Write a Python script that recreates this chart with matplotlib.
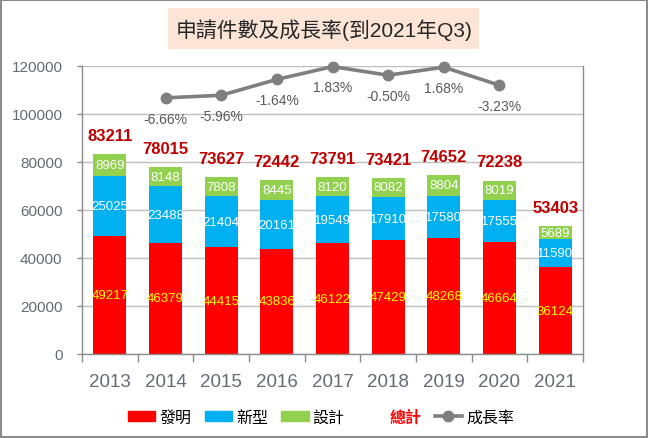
import matplotlib
matplotlib.use("Agg")
import matplotlib.pyplot as plt
from matplotlib.patches import Patch, Rectangle
from matplotlib.lines import Line2D

plt.rcParams['font.family'] = ['Liberation Sans', 'Noto Sans CJK TC', 'DejaVu Sans']

years = ['2013', '2014', '2015', '2016', '2017', '2018', '2019', '2020', '2021']
invention = [49217, 46379, 44415, 43836, 46122, 47429, 48268, 46664, 36124]
utility = [25025, 23488, 21404, 20161, 19549, 17910, 17580, 17555, 11590]
design = [8969, 8148, 7808, 8445, 8120, 8082, 8804, 8019, 5689]
totals = [83211, 78015, 73627, 72442, 73791, 73421, 74652, 72238, 53403]
growth_years = ['2014', '2015', '2016', '2017', '2018', '2019', '2020']
growth = [-6.66, -5.96, -1.64, 1.83, -0.50, 1.68, -3.23]
yticks = [0, 20000, 40000, 60000, 80000, 100000, 120000]

c_inv = '#FF0000'
c_uti = '#00B0F0'
c_des = '#92D050'
c_tot = '#C00000'
c_line = '#7F7F7F'
c_tick = '#666a75'

fig = plt.figure(figsize=(6.48, 4.39), dpi=100)
ax = fig.add_axes([82/648, 1-355/439, (583-82)/648, (355-67)/439])

x = list(range(len(years)))
w = 0.59
bottom2 = invention
bottom3 = [a + b for a, b in zip(invention, utility)]
ax.bar(x, invention, w, color=c_inv, zorder=2)
ax.bar(x, utility, w, bottom=bottom2, color=c_uti, zorder=2)
ax.bar(x, design, w, bottom=bottom3, color=c_des, zorder=2)

for i in x:
    ax.text(i, invention[i]/2, str(invention[i]), ha='center', va='center',
            color='#FFFF00', fontsize=9.5, zorder=3)
    ax.text(i, bottom2[i] + utility[i]/2, str(utility[i]), ha='center', va='center',
            color='white', fontsize=9.5, zorder=3)
    ax.text(i, bottom3[i] + design[i]/2, str(design[i]), ha='center', va='center',
            color='white', fontsize=9.5, zorder=3)
    ax.annotate(str(totals[i]), (i, totals[i]), xytext=(0, 13.5), textcoords='offset points',
                ha='center', va='center', color=c_tot, fontsize=12, fontweight='bold', zorder=3)

ax.set_xlim(-0.5, len(years) - 0.5)
ax.set_ylim(0, 120000)
ax.set_yticks(yticks)
ax.set_yticklabels([str(v) for v in yticks])
ax.set_xticks(x)
ax.set_xticklabels(years)
ax.set_xticks([i - 0.5 for i in range(len(years) + 1)], minor=True)
ax.tick_params(axis='x', which='major', length=0, pad=14, labelsize=13.5, labelcolor=c_tick)
ax.tick_params(axis='x', which='minor', length=6, width=1, color='#8c8c8c', direction='out')
ax.tick_params(axis='y', which='major', length=3.6, width=1, color='#8c8c8c', pad=10.5,
               labelsize=11, labelcolor=c_tick)
ax.yaxis.grid(True, color='#BFBFBF', linewidth=1, zorder=0)
ax.set_axisbelow(True)
for s in ['left', 'bottom', 'right']:
    ax.spines[s].set_color('#8c8c8c')
    ax.spines[s].set_linewidth(1)
ax.spines['top'].set_visible(False)

ax2 = ax.twinx()
gx = [years.index(y) for y in growth_years]
ax2.plot(gx, growth, color=c_line, linewidth=2.6, marker='o', markersize=7.5, zorder=4,
         clip_on=False)
for xi, g in zip(gx, growth):
    ax2.annotate(f"{g:.2f}%", (xi, g), xytext=(0, -15), textcoords='offset points',
                 ha='center', va='center', color='#595959', fontsize=10)
ax2.set_ylim(-76.3, 2.0)
ax2.set_yticks([])
for s in ax2.spines.values():
    s.set_visible(False)

handles = [Patch(color=c_inv), Patch(color=c_uti), Patch(color=c_des),
           Patch(facecolor='none', edgecolor='none'),
           Line2D([0], [0], color=c_line, linewidth=2.6, marker='o', markersize=7.5)]
labels = ['發明', '新型', '設計', '總計', '成長率']
leg = fig.legend(handles, labels, loc='center', bbox_to_anchor=(321/648, 1-418/439),
                 ncol=5, frameon=False, fontsize=11.5, handlelength=1.7, handleheight=0.6,
                 handletextpad=0.25, columnspacing=0.85, numpoints=1)
for t in leg.get_texts():
    t.set_color('black')
leg.get_texts()[3].set_color('#FF0000')
leg.get_texts()[3].set_fontweight('bold')

fig.patches.append(Rectangle((168/648, 1-50/439), 311/648, 41/439, transform=fig.transFigure,
                             facecolor='#FCE4D6', edgecolor='none', zorder=0))
fig.text(324/648, 1-30/439, '申請件數及成長率(到2021年Q3)', ha='center', va='center',
         fontsize=15, color='#262626')
fig.patches.append(Rectangle((0.001, 0.002), 0.997, 0.995, transform=fig.transFigure,
                             facecolor='none', edgecolor='#8c8c8c', linewidth=1.5))

fig.savefig('out.png', dpi=100)
